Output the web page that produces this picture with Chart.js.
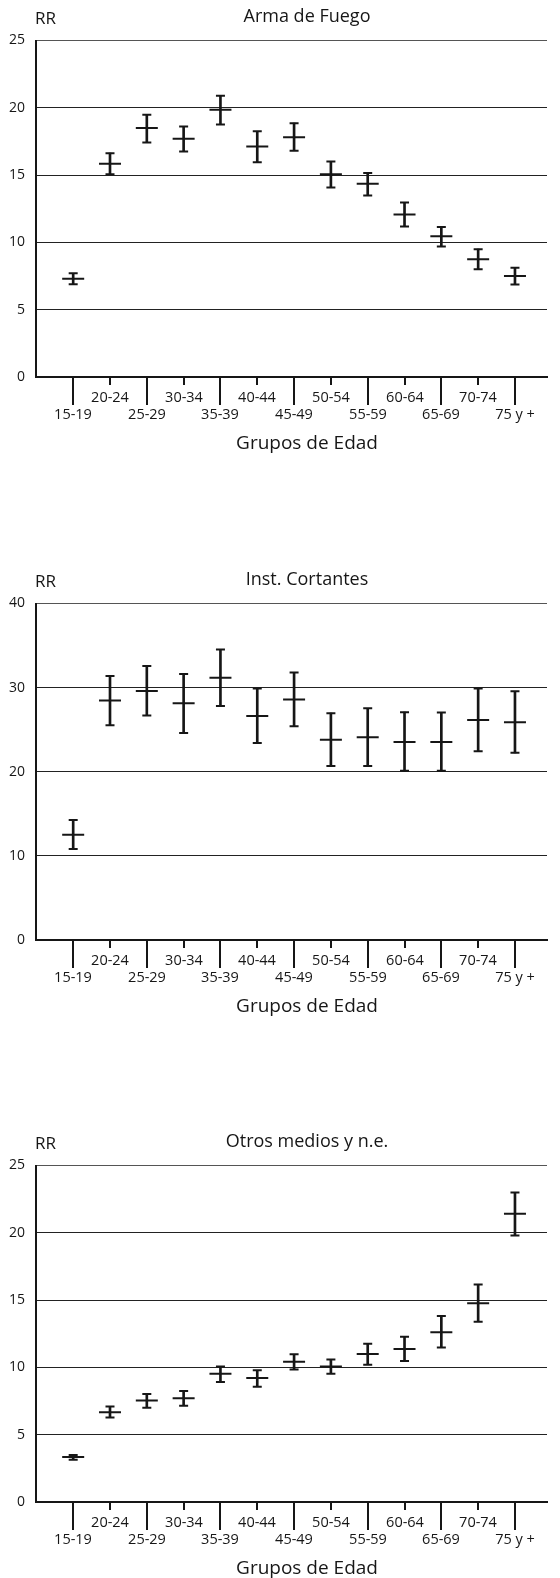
<!DOCTYPE html>
<html><head><meta charset="utf-8">
<script src="https://cdn.jsdelivr.net/npm/chart.js@4.4.1/dist/chart.umd.min.js"></script>
<style>
html,body{margin:0;padding:0;background:#fff;}
#wrap{position:relative;width:560px;height:1578px;overflow:hidden;}
canvas{position:absolute;left:0;}
</style></head><body>
<div id="wrap">
<canvas id="c1" width="560" height="453" style="top:0px;width:560px;height:453px"></canvas>
<canvas id="c2" width="560" height="453" style="top:563px;width:560px;height:453px"></canvas>
<canvas id="c3" width="560" height="453" style="top:1125px;width:560px;height:453px"></canvas>
</div>
<script>
const categories = ['15-19','20-24','25-29','30-34','35-39','40-44','45-49','50-54','55-59','60-64','65-69','70-74','75 y +'];

const yTicksArma = [0, 5, 10, 15, 20, 25];
const rrArma = [7.30, 15.84, 18.49, 17.70, 19.85, 17.13, 17.82, 15.07, 14.36, 12.08, 10.45, 8.74, 7.50];
const loArma = [6.90, 15.07, 17.42, 16.76, 18.76, 15.96, 16.81, 14.08, 13.49, 11.19, 9.70, 8.00, 6.88];
const hiArma = [7.70, 16.63, 19.48, 18.61, 20.89, 18.26, 18.86, 16.01, 15.15, 12.97, 11.14, 9.50, 8.12];

const yTicksCort = [0, 10, 20, 30, 40];
const rrCort = [12.51, 28.47, 29.61, 28.15, 31.16, 26.64, 28.59, 23.79, 24.11, 23.55, 23.55, 26.16, 25.89];
const loCort = [10.81, 25.53, 26.69, 24.62, 27.83, 23.43, 25.42, 20.67, 20.67, 20.11, 20.11, 22.45, 22.25];
const hiCort = [14.25, 31.39, 32.58, 31.63, 34.52, 29.89, 31.79, 26.96, 27.55, 27.08, 27.04, 29.89, 29.57];

const yTicksOtros = [0, 5, 10, 15, 20, 25];
const rrOtros = [3.34, 6.66, 7.55, 7.70, 9.53, 9.21, 10.42, 10.07, 10.99, 11.36, 12.62, 14.77, 21.41];
const loOtros = [3.14, 6.27, 7.01, 7.16, 8.91, 8.57, 9.85, 9.53, 10.20, 10.47, 11.48, 13.39, 19.80];
const hiOtros = [3.49, 7.10, 8.02, 8.24, 10.07, 9.78, 10.97, 10.59, 11.76, 12.28, 13.81, 16.16, 23.00];

const yAxisLabel = 'RR';
const xAxisLabel = 'Grupos de Edad';
const FONT = "'Open Sans', 'Noto Sans', sans-serif";
const INK = '#161616';

function makeChart(id, title, rr, lo, hi, yTicks) {
  const yMax = yTicks[yTicks.length - 1];
  const step = yTicks[1] - yTicks[0];
  const decor = {
    id: 'decor_' + id,
    afterDraw(chart) {
      const ctx = chart.ctx, xs = chart.scales.x, a = chart.chartArea;
      ctx.save();
      ctx.fillStyle = INK;
      ctx.strokeStyle = INK;
      ctx.lineWidth = 2;
      ctx.textAlign = 'center';
      ctx.textBaseline = 'alphabetic';
      ctx.font = '14.5px ' + FONT;
      categories.forEach((c, i) => {
        const x = Math.round(xs.getPixelForValue(i));
        const even = i % 2 === 0;
        ctx.beginPath();
        ctx.moveTo(x, a.bottom);
        ctx.lineTo(x, a.bottom + (even ? 28 : 8));
        ctx.stroke();
        ctx.fillText(c, x, a.bottom + (even ? 42 : 24.5));
      });
      ctx.font = '18px ' + FONT;
      ctx.fillText(title, 307, 21.5);
      ctx.font = '19px ' + FONT;
      ctx.fillText(xAxisLabel, 307, 449);
      ctx.textAlign = 'left';
      ctx.font = '17px ' + FONT;
      ctx.fillText(yAxisLabel, 35, 24);
      ctx.restore();
    }
  };
  return new Chart(document.getElementById(id), {
    type: 'scatter',
    data: {
      datasets: [
        {
          type: 'bar',
          data: rr.map((v, i) => ({ x: i, y: [lo[i], hi[i]] })),
          backgroundColor: INK,
          borderWidth: 0,
          barThickness: 2,
          order: 3
        },
        {
          data: rr.map((v, i) => ({ x: i, y: v })),
          pointStyle: 'line', pointRadius: 11, pointBorderWidth: 2,
          pointBorderColor: INK, pointBackgroundColor: INK, showLine: false, order: 1
        },
        {
          data: lo.map((v, i) => ({ x: i, y: v })),
          pointStyle: 'line', pointRadius: 4.5, pointBorderWidth: 2,
          pointBorderColor: INK, pointBackgroundColor: INK, showLine: false, order: 1
        },
        {
          data: hi.map((v, i) => ({ x: i, y: v })),
          pointStyle: 'line', pointRadius: 4.5, pointBorderWidth: 2,
          pointBorderColor: INK, pointBackgroundColor: INK, showLine: false, order: 1
        }
      ]
    },
    options: {
      responsive: false,
      animation: false,
      events: [],
      devicePixelRatio: 1,
      layout: { padding: { top: 40.5, left: 0, right: 0, bottom: 0 } },
      plugins: { legend: { display: false }, tooltip: { enabled: false }, title: { display: false } },
      scales: {
        x: {
          type: 'linear',
          min: -1.01,
          max: 12.87,
          offset: false,
          grid: { display: false },
          ticks: { display: false },
          border: { display: true, color: INK, width: 2 },
          afterFit(s) { s.height = 76; }
        },
        y: {
          min: 0,
          max: yMax,
          ticks: { stepSize: step, color: INK, padding: 11, font: { family: FONT, size: 14 } },
          grid: {
            drawTicks: false,
            color: (c) => (c.tick && c.tick.value === yMax) ? '#555' : '#222',
            lineWidth: 1
          },
          border: { display: true, color: INK, width: 2 },
          afterFit(s) { s.width = 36; }
        }
      }
    },
    plugins: [decor]
  });
}

makeChart('c1', 'Arma de Fuego', rrArma, loArma, hiArma, yTicksArma);
makeChart('c2', 'Inst. Cortantes', rrCort, loCort, hiCort, yTicksCort);
makeChart('c3', 'Otros medios y n.e.', rrOtros, loOtros, hiOtros, yTicksOtros);
</script>
</body></html>
